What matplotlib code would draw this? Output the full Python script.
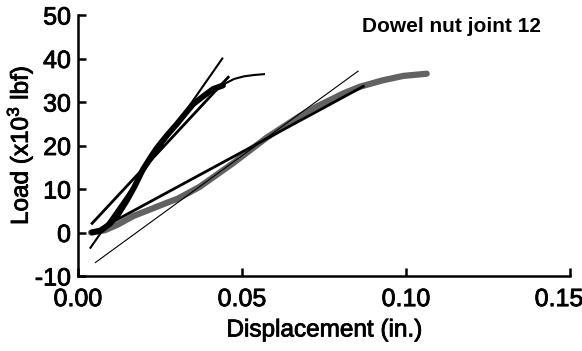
import matplotlib
matplotlib.use("Agg")
import matplotlib.pyplot as plt
import matplotlib.patheffects as pe
from matplotlib.transforms import ScaledTranslation

plt.rcParams['font.family'] = ['Liberation Sans', 'DejaVu Sans']
plt.rcParams['axes.unicode_minus'] = False
plt.rcParams['mathtext.default'] = 'regular'

# Black specimen curve (thick part) and thin tail
black_x = [0.0043, 0.0071, 0.0097, 0.0121, 0.0150, 0.0172, 0.0198, 0.0223, 0.0241,
           0.0273, 0.0302, 0.0329, 0.0351, 0.0385, 0.0412, 0.0442]
black_y = [0.0, 0.5, 2.0, 4.0, 7.5, 10.5, 14.5, 17.5, 19.5,
           22.5, 25.0, 27.5, 29.5, 31.5, 33.0, 33.8]
tail_x = [0.0442, 0.0450, 0.0476, 0.0506, 0.0536, 0.0567]
tail_y = [33.8, 34.3, 35.3, 35.9, 36.2, 36.4]

# Gray specimen curve
gray_x = [0.0040, 0.0081, 0.0121, 0.0169, 0.0203, 0.0270, 0.0305, 0.0371, 0.0474,
          0.0575, 0.0677, 0.0729, 0.0810, 0.0859, 0.0930, 0.0992, 0.1063]
gray_y = [0.0, 0.5, 1.8, 3.8, 4.8, 6.8, 7.8, 10.5, 16.0,
          21.8, 26.8, 29.0, 32.0, 33.5, 35.0, 36.0, 36.5]

# Fitted straight lines (end points)
lineA_x = [0.0043, 0.0458]; lineA_y = [2.1, 35.7]
lineB_x = [0.0038, 0.0440]; lineB_y = [-3.5, 40.0]
lineC_x = [0.0071, 0.0870]; lineC_y = [1.0, 33.6]
lineD_x = [0.0053, 0.0854]; lineD_y = [-6.9, 37.1]

x_ticks = [0.00, 0.05, 0.10, 0.15]
x_labels = ["0.00", "0.05", "0.10", "0.15"]
y_ticks = [-10, 0, 10, 20, 30, 40, 50]
y_labels = ["-10", "0", "10", "20", "30", "40", "50"]

fig = plt.figure(figsize=(5.82, 3.51), dpi=100)
ax = fig.add_axes([78/582, 75/351, 492/582, 261/351])

bold = [pe.withStroke(linewidth=0.6, foreground='black')]

ax.plot(gray_x, gray_y, color='#626262', lw=4.5, solid_capstyle='round', zorder=2)
ax.plot(lineD_x, lineD_y, color='black', lw=0.8, zorder=3)
ax.plot(lineC_x, lineC_y, color='black', lw=2.0, zorder=3)
ax.plot(black_x, black_y, color='black', lw=4.2, solid_capstyle='round', zorder=4)
ax.plot(tail_x, tail_y, color='black', lw=1.5, zorder=4)
ax.plot(lineA_x, lineA_y, color='black', lw=2.0, zorder=5)
ax.plot(lineB_x, lineB_y, color='black', lw=1.5, zorder=5)

ax.set_xlim(0, 0.15)
ax.set_ylim(-10, 50)
ax.set_xticks(x_ticks)
ax.set_xticklabels(x_labels)
ax.set_yticks(y_ticks)
ax.set_yticklabels(y_labels)
for s in ['top', 'right']:
    ax.spines[s].set_visible(False)
for s in ['left', 'bottom']:
    ax.spines[s].set_linewidth(1.8)
ax.tick_params(direction='in', length=6, width=1.8, labelsize=18)
ax.tick_params(axis='x', pad=8)
ax.tick_params(axis='y', pad=5)
for lab in ax.get_xticklabels() + ax.get_yticklabels():
    lab.set_path_effects(bold)
last = ax.get_xticklabels()[-1]
last.set_transform(last.get_transform() + ScaledTranslation(-11/100, 0, fig.dpi_scale_trans))

ax.set_xlabel('Displacement (in.)', fontsize=17.5, labelpad=6, path_effects=bold)
ax.set_ylabel('Load (x10$^{3}$ lbf)', fontsize=17.5, labelpad=0, path_effects=bold)
ax.text(0.114, 46.1, 'Dowel nut joint 12', ha='center', va='baseline',
        fontsize=15, fontweight='bold')

fig.savefig('out.png', dpi=100)
